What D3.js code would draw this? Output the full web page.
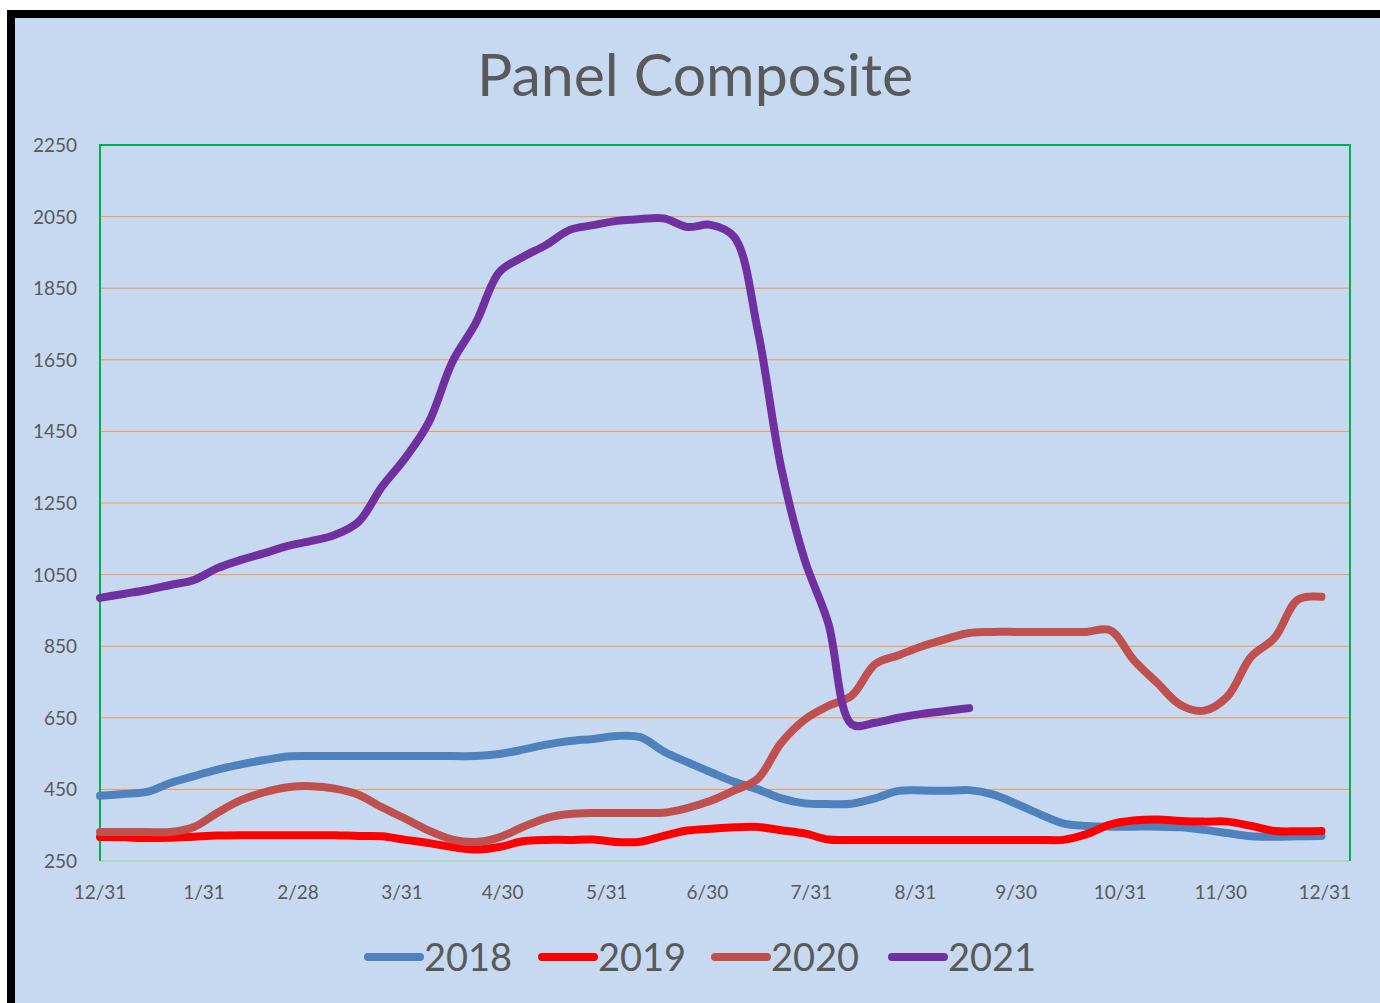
<!DOCTYPE html>
<html>
<head>
<meta charset="utf-8">
<script src="https://cdn.jsdelivr.net/npm/d3@7"></script>
<style>
  body { margin: 0; background: #fff; }
  text { font-family: Lato, "Open Sans", sans-serif; fill: #595959; }
</style>
</head>
<body>
<div id="chart"></div>
<script>
// day offsets from 12/31 (weekly readings)
const days = [0,7,14,21,28,35,42,49,56,63,70,77,84,91,98,105,112,119,126,133,140,147,154,161,168,175,182,189,196,203,210,217,224,231,238,245,252,259,266,273,280,287,294,301,308,315,322,329,336,343,350,357,364]
const tickDays = [0,31,59,90,120,151,181,212,243,273,304,334,365]
const tickLabels = ["12/31","1/31","2/28","3/31","4/30","5/31","6/30","7/31","8/31","9/30","10/31","11/30","12/31"]
const yTicks = [250,450,650,850,1050,1250,1450,1650,1850,2050,2250]

const v2018 = [432,437,443,468,487,505,520,532,542,543,543,543,543,543,543,543,543,549,561,575,585,591,599,596,556,526,498,471,450,425,411,409,410,425,446,447,446,448,436,410,381,355,348,346,346,346,344,337,328,319,318,319,320]
const v2019 = [317,316,314,315,318,321,322,322,322,322,322,320,319,309,300,289,282,289,305,309,309,310,303,304,320,335,340,344,345,336,327,310,309,309,309,309,309,309,309,309,309,309,325,352,363,366,362,360,360,348,334,333,334]
const v2020 = [331,331,331,331,345,385,420,442,456,459,452,435,400,368,335,310,303,316,345,370,381,384,384,384,385,398,418,447,480,580,645,683,712,800,825,850,870,887,890,890,890,890,890,895,812,748,686,670,710,820,873,980,988]
const v2021 = [985,996,1007,1021,1035,1068,1091,1110,1130,1144,1161,1197,1295,1376,1476,1644,1753,1895,1937,1971,2013,2026,2038,2043,2045,2021,2027,1993,1733,1348,1091,915,632,636,650,661,669,677]

const seriesNames = ["2018","2019","2020","2021"]
const seriesColors = ["#4f81bd","#ff0000","#c0504d","#7030a0"]
const seriesValues = [v2018, v2019, v2020, v2021]

const W = 1380, H = 1003
const svg = d3.select("#chart").append("svg").attr("width", W).attr("height", H)

// frame
svg.append("rect").attr("x", 11).attr("y", 14).attr("width", W).attr("height", H)
    .attr("fill", "#c6d9f0").attr("stroke", "#000").attr("stroke-width", 8)

svg.append("text").attr("x", 695).attr("y", 96).attr("text-anchor", "middle")
    .style("font-size", "59px").text("Panel Composite")

const x = d3.scaleLinear().domain([0, 372.5]).range([100, 1350])
const y = d3.scaleLinear().domain([250, 2250]).range([861, 145])

// gridlines
svg.append("g").selectAll("line").data(yTicks.slice(1, -1)).join("line")
    .attr("x1", 100).attr("x2", 1350).attr("y1", d => y(d)).attr("y2", d => y(d))
    .attr("stroke", "#f79646").attr("stroke-width", 1)

// y labels
svg.append("g").selectAll("text").data(yTicks).join("text")
    .attr("x", 77).attr("y", d => y(d) + 7).attr("text-anchor", "end")
    .style("font-size", "19px").text(d => d)

// x labels
svg.append("g").selectAll("text").data(tickDays).join("text")
    .attr("x", d => x(d)).attr("y", 899).attr("text-anchor", "middle")
    .style("font-size", "19px").text((d, i) => tickLabels[i])

// plot border
svg.append("line").attr("x1", 100).attr("x2", 1350).attr("y1", 861).attr("y2", 861)
    .attr("stroke", "#a8d4b8").attr("stroke-width", 1.5)
svg.append("path").attr("d", `M100,861V145H1350V861`).attr("fill", "none")
    .attr("stroke", "#00b050").attr("stroke-width", 2)

const line = d3.line()
    .x((d, i) => x(days[i]))
    .y(d => y(d))
    .curve(d3.curveCatmullRom.alpha(0.5))

seriesValues.forEach((vals, k) => {
    svg.append("path").datum(vals).attr("d", line)
        .attr("fill", "none").attr("stroke", seriesColors[k])
        .attr("stroke-width", 8).attr("stroke-linecap", "round").attr("stroke-linejoin", "round")
})

// legend
const legendX = [368, 542, 715, 892]
seriesNames.forEach((name, k) => {
    svg.append("line").attr("x1", legendX[k]).attr("x2", legendX[k] + 52)
        .attr("y1", 957).attr("y2", 957)
        .attr("stroke", seriesColors[k]).attr("stroke-width", 8).attr("stroke-linecap", "round")
    svg.append("text").attr("x", legendX[k] + 56).attr("y", 971)
        .style("font-size", "38px").text(name)
})
</script>
</body>
</html>
